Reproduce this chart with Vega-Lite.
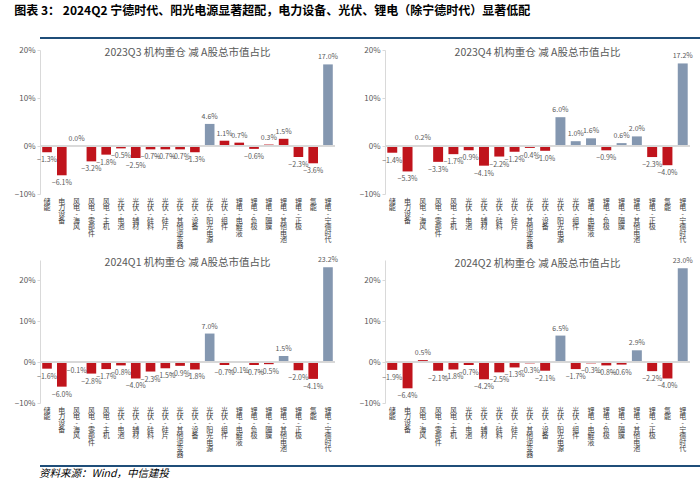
{
"$schema":"https://vega.github.io/schema/vega-lite/v6.json",
"padding":{"left":14,"right":4,"top":5,"bottom":1},
"background":"white",
"title":{"text":"图表 3：  2024Q2 宁德时代、阳光电源显著超配，电力设备、光伏、锂电（除宁德时代）显著低配","anchor":"start","fontSize":12,"fontWeight":"bold","color":"#000000","offset":2},
"config":{"font":"Noto Sans CJK SC","view":{"stroke":null},"axisX":{"title":null,"labelAngle":0,"labelExpr":"split(datum.label,'')","labelFontSize":7,"labelLineHeight":6.4,"labelColor":"#404040","ticks":false,"domain":false,"labelPadding":3},"axisY":{"title":null,"format":".0%","labelColor":"#595959","labelFontSize":8,"grid":false,"domainColor":"#D9D9D9","tickColor":"#D9D9D9","tickSize":3}},
"datasets":{"d":[
{"q":"2023Q3","c":"储能","v":-0.013,"g":"a"},{"q":"2023Q3","c":"电力设备","v":-0.061,"g":"a"},{"q":"2023Q3","c":"风电-海风","v":0.0,"g":"a"},{"q":"2023Q3","c":"风电-零部件","v":-0.032,"g":"a"},{"q":"2023Q3","c":"风电-主机","v":-0.018,"g":"a"},{"q":"2023Q3","c":"光伏-电池","v":-0.005,"g":"a"},{"q":"2023Q3","c":"光伏-辅材","v":-0.025,"g":"a"},{"q":"2023Q3","c":"光伏-硅料","v":-0.007,"g":"a"},{"q":"2023Q3","c":"光伏-硅片","v":-0.007,"g":"a"},{"q":"2023Q3","c":"光伏-其他逆变器","v":-0.007,"g":"a"},{"q":"2023Q3","c":"光伏-设备","v":-0.013,"g":"a"},{"q":"2023Q3","c":"光伏-阳光电源","v":0.046,"g":"b"},{"q":"2023Q3","c":"光伏-组件","v":0.011,"g":"a"},{"q":"2023Q3","c":"锂电-电解液","v":0.007,"g":"a"},{"q":"2023Q3","c":"锂电-负极","v":-0.006,"g":"a"},{"q":"2023Q3","c":"锂电-隔膜","v":0.003,"g":"a"},{"q":"2023Q3","c":"锂电-其他电池","v":0.015,"g":"a"},{"q":"2023Q3","c":"锂电-正极","v":-0.023,"g":"a"},{"q":"2023Q3","c":"氢能","v":-0.036,"g":"a"},{"q":"2023Q3","c":"锂电-宁德时代","v":0.170,"g":"b"},
{"q":"2023Q4","c":"储能","v":-0.014,"g":"a"},{"q":"2023Q4","c":"电力设备","v":-0.053,"g":"a"},{"q":"2023Q4","c":"风电-海风","v":0.002,"g":"a"},{"q":"2023Q4","c":"风电-零部件","v":-0.033,"g":"a"},{"q":"2023Q4","c":"风电-主机","v":-0.017,"g":"a"},{"q":"2023Q4","c":"光伏-电池","v":-0.009,"g":"a"},{"q":"2023Q4","c":"光伏-辅材","v":-0.041,"g":"a"},{"q":"2023Q4","c":"光伏-硅料","v":-0.022,"g":"a"},{"q":"2023Q4","c":"光伏-硅片","v":-0.012,"g":"a"},{"q":"2023Q4","c":"光伏-其他逆变器","v":-0.004,"g":"a"},{"q":"2023Q4","c":"光伏-设备","v":-0.010,"g":"a"},{"q":"2023Q4","c":"光伏-阳光电源","v":0.060,"g":"b"},{"q":"2023Q4","c":"光伏-组件","v":0.010,"g":"b"},{"q":"2023Q4","c":"锂电-电解液","v":0.016,"g":"b"},{"q":"2023Q4","c":"锂电-负极","v":-0.009,"g":"a"},{"q":"2023Q4","c":"锂电-隔膜","v":0.006,"g":"b"},{"q":"2023Q4","c":"锂电-其他电池","v":0.020,"g":"b"},{"q":"2023Q4","c":"锂电-正极","v":-0.023,"g":"a"},{"q":"2023Q4","c":"氢能","v":-0.040,"g":"a"},{"q":"2023Q4","c":"锂电-宁德时代","v":0.172,"g":"b"},
{"q":"2024Q1","c":"储能","v":-0.016,"g":"a"},{"q":"2024Q1","c":"电力设备","v":-0.060,"g":"a"},{"q":"2024Q1","c":"风电-海风","v":-0.001,"g":"a"},{"q":"2024Q1","c":"风电-零部件","v":-0.028,"g":"a"},{"q":"2024Q1","c":"风电-主机","v":-0.017,"g":"a"},{"q":"2024Q1","c":"光伏-电池","v":-0.008,"g":"a"},{"q":"2024Q1","c":"光伏-辅材","v":-0.040,"g":"a"},{"q":"2024Q1","c":"光伏-硅料","v":-0.023,"g":"a"},{"q":"2024Q1","c":"光伏-硅片","v":-0.015,"g":"a"},{"q":"2024Q1","c":"光伏-其他逆变器","v":-0.009,"g":"a"},{"q":"2024Q1","c":"光伏-设备","v":-0.018,"g":"a"},{"q":"2024Q1","c":"光伏-阳光电源","v":0.070,"g":"b"},{"q":"2024Q1","c":"光伏-组件","v":-0.007,"g":"a"},{"q":"2024Q1","c":"锂电-电解液","v":-0.001,"g":"a"},{"q":"2024Q1","c":"锂电-负极","v":-0.007,"g":"a"},{"q":"2024Q1","c":"锂电-隔膜","v":-0.005,"g":"a"},{"q":"2024Q1","c":"锂电-其他电池","v":0.015,"g":"b"},{"q":"2024Q1","c":"锂电-正极","v":-0.020,"g":"a"},{"q":"2024Q1","c":"氢能","v":-0.041,"g":"a"},{"q":"2024Q1","c":"锂电-宁德时代","v":0.232,"g":"b"},
{"q":"2024Q2","c":"储能","v":-0.019,"g":"a"},{"q":"2024Q2","c":"电力设备","v":-0.064,"g":"a"},{"q":"2024Q2","c":"风电-海风","v":0.005,"g":"a"},{"q":"2024Q2","c":"风电-零部件","v":-0.021,"g":"a"},{"q":"2024Q2","c":"风电-主机","v":-0.018,"g":"a"},{"q":"2024Q2","c":"光伏-电池","v":-0.007,"g":"a"},{"q":"2024Q2","c":"光伏-辅材","v":-0.042,"g":"a"},{"q":"2024Q2","c":"光伏-硅料","v":-0.025,"g":"a"},{"q":"2024Q2","c":"光伏-硅片","v":-0.013,"g":"a"},{"q":"2024Q2","c":"光伏-其他逆变器","v":-0.003,"g":"a"},{"q":"2024Q2","c":"光伏-设备","v":-0.021,"g":"a"},{"q":"2024Q2","c":"光伏-阳光电源","v":0.065,"g":"b"},{"q":"2024Q2","c":"光伏-组件","v":-0.017,"g":"a"},{"q":"2024Q2","c":"锂电-电解液","v":-0.003,"g":"a"},{"q":"2024Q2","c":"锂电-负极","v":-0.008,"g":"a"},{"q":"2024Q2","c":"锂电-隔膜","v":-0.006,"g":"a"},{"q":"2024Q2","c":"锂电-其他电池","v":0.029,"g":"b"},{"q":"2024Q2","c":"锂电-正极","v":-0.022,"g":"a"},{"q":"2024Q2","c":"氢能","v":-0.040,"g":"a"},{"q":"2024Q2","c":"锂电-宁德时代","v":0.230,"g":"b"}
]},
"data":{"name":"d"},
"spacing":7,
"vconcat":[
{"width":680,"height":18,"mark":{"type":"rule","color":"#1F4E79","strokeWidth":2},"encoding":{"y":{"datum":0,"scale":{"domain":[0,1]},"axis":null}}},
{"hconcat":[
{"width":295,"height":144,"title":{"text":"2023Q3 机构重仓 减 A股总市值占比","fontSize":10.5,"fontWeight":"normal","color":"#595959","offset":-12},
"transform":[{"filter":"datum.q=='2023Q3'"}],
"layer":[
{"mark":{"type":"bar"},"encoding":{"x":{"field":"c","type":"nominal","sort":null,"scale":{"paddingInner":0.35,"paddingOuter":0.15}},"y":{"field":"v","type":"quantitative","scale":{"domain":[-0.1,0.2],"nice":false},"axis":{"values":[-0.1,-0.05,0,0.05,0.1,0.15,0.2]}},"color":{"field":"g","type":"nominal","scale":{"domain":["a","b"],"range":["#C0141C","#8497B0"]},"legend":null}}},
{"mark":{"type":"rule","color":"#D9D9D9"},"encoding":{"y":{"datum":0}}},
{"transform":[{"filter":"datum.v>=0"}],"mark":{"type":"text","fontSize":7,"color":"#595959","dy":-4,"baseline":"bottom"},"encoding":{"x":{"field":"c","type":"nominal","sort":null},"y":{"field":"v","type":"quantitative"},"text":{"field":"v","format":".1%"}}},
{"transform":[{"filter":"datum.v<0"}],"mark":{"type":"text","fontSize":7,"color":"#595959","dy":4,"baseline":"top"},"encoding":{"x":{"field":"c","type":"nominal","sort":null},"y":{"field":"v","type":"quantitative"},"text":{"field":"v","format":".1%"}}}
]},
{"width":305,"height":144,"title":{"text":"2023Q4 机构重仓 减 A股总市值占比","fontSize":10.5,"fontWeight":"normal","color":"#595959","offset":-12},
"transform":[{"filter":"datum.q=='2023Q4'"}],
"layer":[
{"mark":{"type":"bar"},"encoding":{"x":{"field":"c","type":"nominal","sort":null,"scale":{"paddingInner":0.35,"paddingOuter":0.15}},"y":{"field":"v","type":"quantitative","scale":{"domain":[-0.1,0.2],"nice":false},"axis":{"values":[-0.1,-0.05,0,0.05,0.1,0.15,0.2]}},"color":{"field":"g","type":"nominal","scale":{"domain":["a","b"],"range":["#C0141C","#8497B0"]},"legend":null}}},
{"mark":{"type":"rule","color":"#D9D9D9"},"encoding":{"y":{"datum":0}}},
{"transform":[{"filter":"datum.v>=0"}],"mark":{"type":"text","fontSize":7,"color":"#595959","dy":-4,"baseline":"bottom"},"encoding":{"x":{"field":"c","type":"nominal","sort":null},"y":{"field":"v","type":"quantitative"},"text":{"field":"v","format":".1%"}}},
{"transform":[{"filter":"datum.v<0"}],"mark":{"type":"text","fontSize":7,"color":"#595959","dy":4,"baseline":"top"},"encoding":{"x":{"field":"c","type":"nominal","sort":null},"y":{"field":"v","type":"quantitative"},"text":{"field":"v","format":".1%"}}}
]}
],"spacing":20},
{"hconcat":[
{"width":295,"height":143,"title":{"text":"2024Q1 机构重仓 减 A股总市值占比","fontSize":10.5,"fontWeight":"normal","color":"#595959","offset":-12},
"transform":[{"filter":"datum.q=='2024Q1'"}],
"layer":[
{"mark":{"type":"bar"},"encoding":{"x":{"field":"c","type":"nominal","sort":null,"scale":{"paddingInner":0.35,"paddingOuter":0.15}},"y":{"field":"v","type":"quantitative","scale":{"domain":[-0.1,0.25],"nice":false},"axis":{"values":[-0.1,-0.05,0,0.05,0.1,0.15,0.2,0.25]}},"color":{"field":"g","type":"nominal","scale":{"domain":["a","b"],"range":["#C0141C","#8497B0"]},"legend":null}}},
{"mark":{"type":"rule","color":"#D9D9D9"},"encoding":{"y":{"datum":0}}},
{"transform":[{"filter":"datum.v>=0"}],"mark":{"type":"text","fontSize":7,"color":"#595959","dy":-4,"baseline":"bottom"},"encoding":{"x":{"field":"c","type":"nominal","sort":null},"y":{"field":"v","type":"quantitative"},"text":{"field":"v","format":".1%"}}},
{"transform":[{"filter":"datum.v<0"}],"mark":{"type":"text","fontSize":7,"color":"#595959","dy":4,"baseline":"top"},"encoding":{"x":{"field":"c","type":"nominal","sort":null},"y":{"field":"v","type":"quantitative"},"text":{"field":"v","format":".1%"}}}
]},
{"width":305,"height":143,"title":{"text":"2024Q2 机构重仓 减 A股总市值占比","fontSize":10.5,"fontWeight":"normal","color":"#595959","offset":-12},
"transform":[{"filter":"datum.q=='2024Q2'"}],
"layer":[
{"mark":{"type":"bar"},"encoding":{"x":{"field":"c","type":"nominal","sort":null,"scale":{"paddingInner":0.35,"paddingOuter":0.15}},"y":{"field":"v","type":"quantitative","scale":{"domain":[-0.1,0.25],"nice":false},"axis":{"values":[-0.1,-0.05,0,0.05,0.1,0.15,0.2,0.25]}},"color":{"field":"g","type":"nominal","scale":{"domain":["a","b"],"range":["#C0141C","#8497B0"]},"legend":null}}},
{"mark":{"type":"rule","color":"#D9D9D9"},"encoding":{"y":{"datum":0}}},
{"transform":[{"filter":"datum.v>=0"}],"mark":{"type":"text","fontSize":7,"color":"#595959","dy":-4,"baseline":"bottom"},"encoding":{"x":{"field":"c","type":"nominal","sort":null},"y":{"field":"v","type":"quantitative"},"text":{"field":"v","format":".1%"}}},
{"transform":[{"filter":"datum.v<0"}],"mark":{"type":"text","fontSize":7,"color":"#595959","dy":4,"baseline":"top"},"encoding":{"x":{"field":"c","type":"nominal","sort":null},"y":{"field":"v","type":"quantitative"},"text":{"field":"v","format":".1%"}}}
]}
],"spacing":20},
{"width":680,"height":1,"title":{"text":"资料来源：Wind，中信建投","orient":"bottom","anchor":"start","fontSize":10.5,"fontWeight":"normal","fontStyle":"italic","color":"#000000","offset":2},"mark":{"type":"rule","color":"#1F4E79","strokeWidth":2},"encoding":{"y":{"datum":0,"scale":{"domain":[0,1]},"axis":null}}}
]
}
